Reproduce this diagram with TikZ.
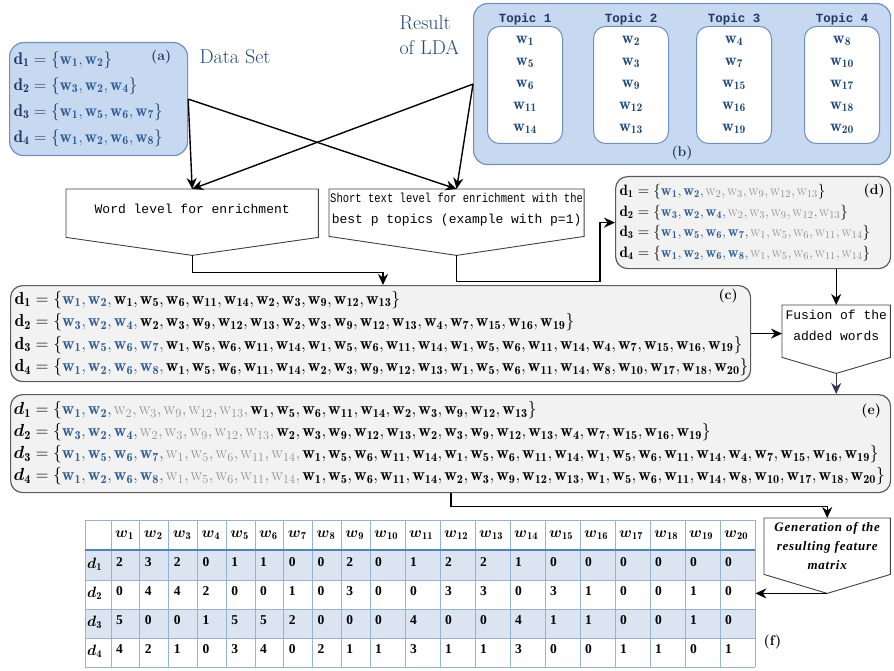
\RequirePackage{fix-cm}
\documentclass[tikz,border=0pt]{standalone}
\usepackage{amsmath}
\usepackage{fontspec}
\usetikzlibrary{positioning,calc,arrows.meta}
\newfontfamily\monofont{Liberation Mono}
\newfontfamily\genfont[LetterSpace=6]{Liberation Serif}
\newfontfamily\numfont{Liberation Serif}
\definecolor{wblue}{HTML}{2E5C94}
\definecolor{wgray}{HTML}{8E8E8E}
\definecolor{navy}{HTML}{1F3864}
\definecolor{titleblue}{HTML}{1F497D}
\definecolor{boxblue}{HTML}{C6D9F0}
\definecolor{edgeblue}{HTML}{7090C0}
\definecolor{boxgray}{HTML}{F2F2F2}
\definecolor{edgegray}{HTML}{5A5A5A}
\definecolor{rowblue}{HTML}{DBE5F1}
\definecolor{gridblue}{HTML}{95B3D7}
\definecolor{headblue}{HTML}{4F81BD}
\definecolor{darkpurple}{HTML}{3F3151}
% words of a document
\newcommand{\wrd}[1]{\mathbf{w}_{\mathbf{#1}}}
\newcommand{\wrdc}[1]{\wrd{#1}{,}\mkern2mu}
\newcommand{\wgc}[1]{\mathrm{w}_{#1}{,}\mkern2mu}
\newcommand{\wgi}[1]{\mathrm{w}_{#1}}
\newcommand{\docd}[1]{\mathbf{d}_{\mathbf{#1}}=\{}
\newcommand{\doce}[1]{\boldsymbol{d}_{\mathbf{#1}}=\{}
\begin{document}
\begin{tikzpicture}[
    x=1pt, y=-1pt,
    >={Stealth[length=11pt,width=10pt]},
    bluebox/.style={draw=edgeblue, line width=1.2pt, fill=boxblue, rounded corners=14pt, anchor=north west},
    topicbox/.style={draw=edgeblue, line width=1pt, fill=white, rounded corners=12pt, anchor=north west,
      minimum width=75, minimum height=117, align=center, text=titleblue, font=\fontsize{16.5}{22}\selectfont},
    topic/.style={inner sep=1pt, text=navy, font=\monofont\bfseries\fontsize{12.5}{14}\selectfont},
    graybox/.style={draw=edgegray, line width=1.2pt, fill=boxgray, rounded corners=12pt, anchor=north west,
      inner xsep=4pt, align=left},
    flow/.style={anchor=north west, inner sep=1pt, align=center, font=\monofont\fontsize{13}{21}\selectfont},
    flowline/.style={draw=black!75, line width=0.9pt},
    title/.style={text=titleblue, font=\fontsize{20}{25}\selectfont},
    tag/.style={font=\bfseries\fontsize{14}{14}\selectfont},
    conn/.style={draw=black, line width=1.4pt, ->}
  ]
  \useasboundingbox (0,0) rectangle (894,671);

  % (a) data set
  \node[bluebox, minimum width=178, minimum height=113, text width=170, inner xsep=4pt, align=left,
    text=navy, font=\fontsize{17}{26}\selectfont] (a) at (9,42) {%
    $\docd1{\color{wblue}\wrdc1\wrd2}\}$\\
    $\docd2{\color{wblue}\wrdc3\wrdc2\wrd4}\}$\\
    $\docd3{\color{wblue}\wrdc1\wrdc5\wrdc6\wrd7}\}$\\
    $\docd4{\color{wblue}\wrdc1\wrdc2\wrdc6\wrd8}\}$};
  \node[tag, text=navy] at ($(a.north east)+(-27,15)$) {(a)};
  \node[title, anchor=west] (dslabel) at (196,57) {Data Set};

  % (b) result of LDA
  \node[bluebox, minimum width=417, minimum height=161] (b) at (473,3) {};
  \node[title, anchor=west, align=left] (ldalabel) at (396,35) {Result\\of LDA};
  \node[topicbox] (t1) at (487,26) {$\wrd1$\\$\wrd5$\\$\wrd6$\\$\wrd{11}$\\$\wrd{14}$};
  \node[topicbox] (t2) at (593,26) {$\wrd2$\\$\wrd3$\\$\wrd9$\\$\wrd{12}$\\$\wrd{13}$};
  \node[topicbox] (t3) at (696,26) {$\wrd4$\\$\wrd7$\\$\wrd{15}$\\$\wrd{16}$\\$\wrd{19}$};
  \node[topicbox] (t4) at (804,26) {$\wrd8$\\$\wrd{10}$\\$\wrd{17}$\\$\wrd{18}$\\$\wrd{20}$};
  \node[topic, above=0pt of t1] {Topic 1};
  \node[topic, above=0pt of t2] {Topic 2};
  \node[topic, above=0pt of t3] {Topic 3};
  \node[topic, above=0pt of t4] {Topic 4};
  \node[tag, text=navy, above=2pt of b.south] {(b)};

  % enrichment levels
  \node[flow, minimum width=252, minimum height=40] (word) at (66,189) {Word level for enrichment};
  \coordinate (wordtip) at ($(word.south)+(0,26)$);
  \draw[flowline] (word.north west) -- (word.north east) -- ($(word.south east)+(0,8)$)
    -- (wordtip) -- ($(word.south west)+(0,8)$) -- cycle;
  \node[flow, minimum width=252, minimum height=41] (short) at (329,189)
    {\scalebox{0.81}[1]{Short text level for enrichment with the}\\best p topics (example with p=1)};
  \coordinate (shorttip) at ($(short.south)+(0,25)$);
  \draw[flowline] (short.north west) -- (short.north east) -- ($(short.south east)+(0,6)$)
    -- (shorttip) -- ($(short.south west)+(0,6)$) -- cycle;

  \draw[conn] (a.east) -- (word.north);
  \draw[conn] (a.east) -- (short.north);
  \draw[conn] (b.west) -- (word.north);
  \draw[conn] (b.west) -- (short.north);

  % (d) short text level
  \node[graybox, minimum width=275, minimum height=92, text width=267,
    font=\fontsize{15}{20.5}\selectfont] (d) at (615,176) {%
    $\docd1{\color{wblue}\wrdc1\wrdc2}{\color{wgray}\wgc2\wgc3\wgc9\wgc{12}\wgi{13}}\}$\\
    $\docd2{\color{wblue}\wrdc3\wrdc2\wrdc4}{\color{wgray}\wgc2\wgc3\wgc9\wgc{12}\wgi{13}}\}$\\
    $\docd3{\color{wblue}\wrdc1\wrdc5\wrdc6\wrdc7}{\color{wgray}\wgc1\wgc5\wgc6\wgc{11}\wgi{14}}\}$\\
    $\docd4{\color{wblue}\wrdc1\wrdc2\wrdc6\wrdc8}{\color{wgray}\wgc1\wgc5\wgc6\wgc{11}\wgi{14}}\}$};
  \node[tag] at ($(d.north east)+(-17,15)$) {(d)};

  % (c) word level
  \node[graybox, minimum width=740, minimum height=96, text width=732,
    font=\fontsize{17.5}{22.5}\selectfont] (c) at (10,285) {%
    $\docd1{\color{wblue}\wrdc1\wrdc2}\wrdc1\wrdc5\wrdc6\wrdc{11}\wrdc{14}\wrdc2\wrdc3\wrdc9\wrdc{12}\wrd{13}\}$\\
    $\docd2{\color{wblue}\wrdc3\wrdc2\wrdc4}\wrdc2\wrdc3\wrdc9\wrdc{12}\wrdc{13}\wrdc2\wrdc3\wrdc9\wrdc{12}\wrdc{13}\wrdc4\wrdc7\wrdc{15}\wrdc{16}\wrd{19}\}$\\
    $\docd3{\color{wblue}\wrdc1\wrdc5\wrdc6\wrdc7}\wrdc1\wrdc5\wrdc6\wrdc{11}\wrdc{14}\wrdc1\wrdc5\wrdc6\wrdc{11}\wrdc{14}\wrdc1\wrdc5\wrdc6\wrdc{11}\wrdc{14}\wrdc4\wrdc7\wrdc{15}\wrdc{16}\wrd{19}\}$\\
    $\docd4{\color{wblue}\wrdc1\wrdc2\wrdc6\wrdc8}\wrdc1\wrdc5\wrdc6\wrdc{11}\wrdc{14}\wrdc2\wrdc3\wrdc9\wrdc{12}\wrdc{13}\wrdc1\wrdc5\wrdc6\wrdc{11}\wrdc{14}\wrdc8\wrdc{10}\wrdc{17}\wrdc{18}\wrd{20}\}$};
  \node[tag] at ($(c.north east)+(-23,11)$) {(c)};

  % fusion
  \node[flow, minimum width=108, minimum height=40] (fusion) at (782,305) {Fusion of the\\added words};
  \coordinate (fusiontip) at ($(fusion.south)+(0,28)$);
  \draw[flowline] (fusion.north west) -- (fusion.north east) -- ($(fusion.south east)+(0,12)$)
    -- (fusiontip) -- ($(fusion.south west)+(0,12)$) -- cycle;

  % (e) fused words
  \node[graybox, minimum width=880, minimum height=98, text width=874, inner xsep=3pt,
    font=\fontsize{17.5}{22}\selectfont] (e) at (10,394) {%
    $\doce1{\color{wblue}\wrdc1\wrdc2}{\color{wgray}\wgc2\wgc3\wgc9\wgc{12}\wgc{13}}\wrdc1\wrdc5\wrdc6\wrdc{11}\wrdc{14}\wrdc2\wrdc3\wrdc9\wrdc{12}\wrd{13}\}$\\
    $\doce2{\color{wblue}\wrdc3\wrdc2\wrdc4}{\color{wgray}\wgc2\wgc3\wgc9\wgc{12}\wgc{13}}\wrdc2\wrdc3\wrdc9\wrdc{12}\wrdc{13}\wrdc2\wrdc3\wrdc9\wrdc{12}\wrdc{13}\wrdc4\wrdc7\wrdc{15}\wrdc{16}\wrd{19}\}$\\
    $\doce3{\color{wblue}\wrdc1\wrdc5\wrdc6\wrdc7}{\color{wgray}\wgc1\wgc5\wgc6\wgc{11}\wgc{14}}\wrdc1\wrdc5\wrdc6\wrdc{11}\wrdc{14}\wrdc1\wrdc5\wrdc6\wrdc{11}\wrdc{14}\wrdc1\wrdc5\wrdc6\wrdc{11}\wrdc{14}\wrdc4\wrdc7\wrdc{15}\wrdc{16}\wrd{19}\}$\\
    $\doce4{\color{wblue}\wrdc1\wrdc2\wrdc6\wrdc8}{\color{wgray}\wgc1\wgc5\wgc6\wgc{11}\wgc{14}}\wrdc1\wrdc5\wrdc6\wrdc{11}\wrdc{14}\wrdc2\wrdc3\wrdc9\wrdc{12}\wrdc{13}\wrdc1\wrdc5\wrdc6\wrdc{11}\wrdc{14}\wrdc8\wrdc{10}\wrdc{17}\wrdc{18}\wrd{20}\}$};
  \node[tag] at ($(e.north east)+(-20,17)$) {(e)};

  % generation of the matrix
  \node[flow, minimum width=126, minimum height=56, font=\genfont\bfseries\itshape\fontsize{13}{19}\selectfont]
    (gen) at (764,518) {Generation of the\\resulting feature\\matrix};
  \coordinate (gentip) at ($(gen.south)+(0,19)$);
  \draw[flowline] (gen.north west) -- (gen.north east) -- (gen.south east)
    -- (gentip) -- (gen.south west) -- cycle;

  % (f) feature matrix
  \node[inner sep=0, minimum width=670, minimum height=147, anchor=north west] (tab) at (85,520) {};
  \fill[rowblue] (85,550) rectangle (755,580);
  \fill[rowblue] (85,609) rectangle (755,638);
  \foreach \y in {520,580,609,638,667}
    \draw[gridblue, line width=0.8pt] (85,\y) -- (755,\y);
  \draw[gridblue, line width=0.8pt] (85,520) -- (85,667);
  \foreach \j in {0,...,20} {
    \pgfmathsetmacro\cx{\j<10 ? 111+\j*28.78 : 370+(\j-9)*35}
    \draw[gridblue, line width=0.8pt] (\cx,520) -- (\cx,667);
  }
  \draw[headblue, line width=1.6pt] (85,550) -- (755,550);
  \foreach \j in {1,...,20} {
    \pgfmathsetmacro\cx{\j<10 ? 111+(\j-1)*28.78 : 370+(\j-10)*35}
    \node[anchor=west, inner sep=0, font=\fontsize{15}{15}\selectfont] at (\cx+4,535) {$\boldsymbol{w}_{\mathbf{\j}}$};
  }
  \foreach \vals [count=\i] in {{2,3,2,0,1,1,0,0,2,0,1,2,2,1,0,0,0,0,0,0},
      {0,4,4,2,0,0,1,0,3,0,0,3,3,0,3,1,0,0,1,0},
      {5,0,0,1,5,5,2,0,0,0,4,0,0,4,1,1,0,0,1,0},
      {4,2,1,0,3,4,0,2,1,1,3,1,1,3,0,0,1,1,0,1}} {
    \pgfmathsetmacro\ry{\i==1 ? 564 : 593+(\i-2)*29}
    \node[anchor=west, inner sep=0, font=\fontsize{15}{15}\selectfont] at (87,\ry) {$\boldsymbol{d}_{\mathbf{\i}}$};
    \foreach \v [count=\j] in \vals {
      \pgfmathsetmacro\cx{\j<10 ? 111+(\j-1)*28.78 : 370+(\j-10)*35}
      \node[anchor=west, inner sep=0, font=\numfont\bfseries\fontsize{13.5}{13.5}\selectfont] at (\cx+5,\ry-2) {\v};
    }
  }
  \node[tag] at ($(tab.south east)+(17,-25)$) {(f)};

  % flow between the steps
  \coordinate (cin) at ($(c.north west)+(373,0)$);
  \draw[conn] (wordtip) -- ++(0,17) -| (cin);
  \draw[conn] (shorttip) -- ++(0,26) -| ($(d.west)+(-15,0)$) -- (d.west);
  \draw[conn] (d.south -| fusion.north) -- (fusion.north);
  \draw[conn] (c.east) -- (c.east -| fusion.west);
  \draw[conn, draw=darkpurple] (fusiontip) -- (fusiontip |- e.north);
  \coordinate (eout) at ($(e.south west)+(441,0)$);
  \draw[conn] (eout) -- ++(0,13) -| (gen.north);
  \draw[conn] (gentip) -- (gentip -| tab.east);
\end{tikzpicture}
\end{document}
